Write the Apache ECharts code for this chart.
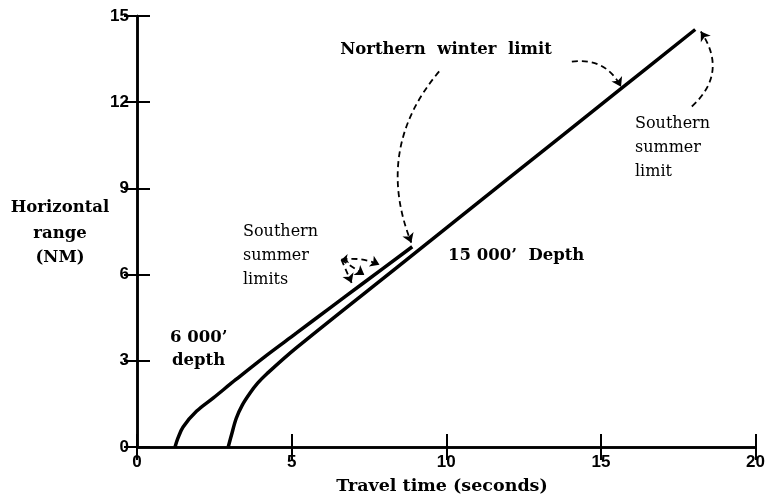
<!DOCTYPE html>
<html><head><meta charset="utf-8">
<script src="https://cdn.jsdelivr.net/npm/echarts@6/dist/echarts.min.js"></script>
<style>html,body{margin:0;padding:0;background:#fff}#c{width:768px;height:501px}</style>
</head><body><div id="c"></div>
<script>
// Travel time (s) vs horizontal range (NM)
const depth6000 = [[1.23,0],[1.32,0.3],[1.49,0.7],[1.93,1.25],[2.46,1.7],[3.2,2.35],[4.2,3.2],[5.15,3.96],[6.2,4.81],[7.3,5.69],[8.9,6.97]];
const depth15000 = [[2.95,0],[3.05,0.4],[3.21,1.0],[3.4,1.45],[3.65,1.87],[3.9,2.22],[4.2,2.55],[5.15,3.45],[8.5,6.33],[12,9.34],[15.58,12.41],[18.05,14.53]];
// annotation arrows
const arrowNorthWinterA = [[9.77,13.07],[8.87,7.11]];
const arrowNorthWinterB = [[14.06,13.41],[15.65,12.54]];
const arrowSouthSummer = [[17.94,11.85],[18.23,14.46]];
const arrowSouthLimits = [
  [[6.61,6.52],[6.94,5.71]],
  [[6.61,6.52],[7.35,5.99]],
  [[6.61,6.52],[7.84,6.34]]
];
const xTickLabels = ['0','5','10','15','20'];
const yTickLabels = ['0','3','6','9','12','15'];

const chart = echarts.init(document.getElementById('c'), null, {renderer:'canvas'});
const serif = '"DejaVu Serif", "Liberation Serif", serif';
const sans = '"Liberation Sans", Arial, sans-serif';
const axBase = {
  type:'value', splitLine:{show:false},
  axisLine:{show:true, lineStyle:{color:'#000', width:2.5}},
  axisTick:{show:true, inside:true, length:13, lineStyle:{color:'#000', width:2}}
};
function arrowSeries(pts, curv, both){
  return {
    type:'lines', coordinateSystem:'cartesian2d', silent:true, z:5,
    symbol: both ? ['arrow','arrow'] : ['none','arrow'], symbolSize:[7,9],
    lineStyle:{color:'#000', width:1.8, type:[6,4], curveness:curv, opacity:1},
    data:[{coords:pts}]
  };
}
const texts = [
  {x:446,y:50,t:'Northern  winter  limit',w:'bold',s:16.5,a:'center'},
  {x:635,y:124,t:'Southern',w:'normal',s:16,a:'left'},
  {x:635,y:148,t:'summer',w:'normal',s:16,a:'left'},
  {x:635,y:172,t:'limit',w:'normal',s:16,a:'left'},
  {x:243,y:232,t:'Southern',w:'normal',s:16,a:'left'},
  {x:243,y:256,t:'summer',w:'normal',s:16,a:'left'},
  {x:243,y:280,t:'limits',w:'normal',s:16,a:'left'},
  {x:448,y:256,t:'15 000’  Depth',w:'bold',s:16.5,a:'left'},
  {x:170,y:338,t:'6 000’',w:'bold',s:16.5,a:'left'},
  {x:172,y:361,t:'depth',w:'bold',s:16.5,a:'left'},
  {x:60,y:208,t:'Horizontal',w:'bold',s:16.5,a:'center'},
  {x:60,y:234,t:'range',w:'bold',s:16.5,a:'center'},
  {x:60,y:258,t:'(NM)',w:'bold',s:16.5,a:'center'},
  {x:442,y:486,t:'Travel time (seconds)',w:'bold',s:17.5,a:'center'}
];
chart.setOption({
  animation:false,
  backgroundColor:'#fff',
  grid:{left:137, right:11, top:16, bottom:54, containLabel:false},
  xAxis:[
    Object.assign({}, axBase, {position:'bottom', min:0, max:20, interval:5,
      axisLabel:{show:true, margin:7, color:'#000', fontFamily:sans, fontWeight:'bold', fontSize:17,
        formatter:(v)=>xTickLabels[v/5]}}),
    Object.assign({}, axBase, {position:'top', min:0, max:20, interval:5, axisLabel:{show:false}})
  ],
  yAxis:[
    Object.assign({}, axBase, {position:'left', min:0, max:15, interval:3,
      axisLabel:{show:true, margin:8, color:'#000', fontFamily:sans, fontWeight:'bold', fontSize:17,
        formatter:(v)=>yTickLabels[v/3]}}),
    Object.assign({}, axBase, {position:'right', min:0, max:15, interval:3, axisLabel:{show:false}})
  ],
  series:[
    {type:'line', data:depth6000, smooth:0.35, showSymbol:false, lineStyle:{color:'#000', width:3.5}},
    {type:'line', data:depth15000, smooth:0.35, showSymbol:false, lineStyle:{color:'#000', width:3.5}},
    arrowSeries(arrowNorthWinterA, -0.3),
    arrowSeries(arrowNorthWinterB, 0.35),
    arrowSeries(arrowSouthSummer, -0.43),
    arrowSeries(arrowSouthLimits[0], 0),
    arrowSeries(arrowSouthLimits[1], 0),
    arrowSeries(arrowSouthLimits[2], 0.15, true)
  ],
  graphic: texts.map(o=>({type:'text', x:o.x, y:o.y, style:{text:o.t, fill:'#000',
    font:o.w+' '+o.s+'px '+serif, textAlign:o.a, textVerticalAlign:'middle'}}))
});
</script></body></html>
